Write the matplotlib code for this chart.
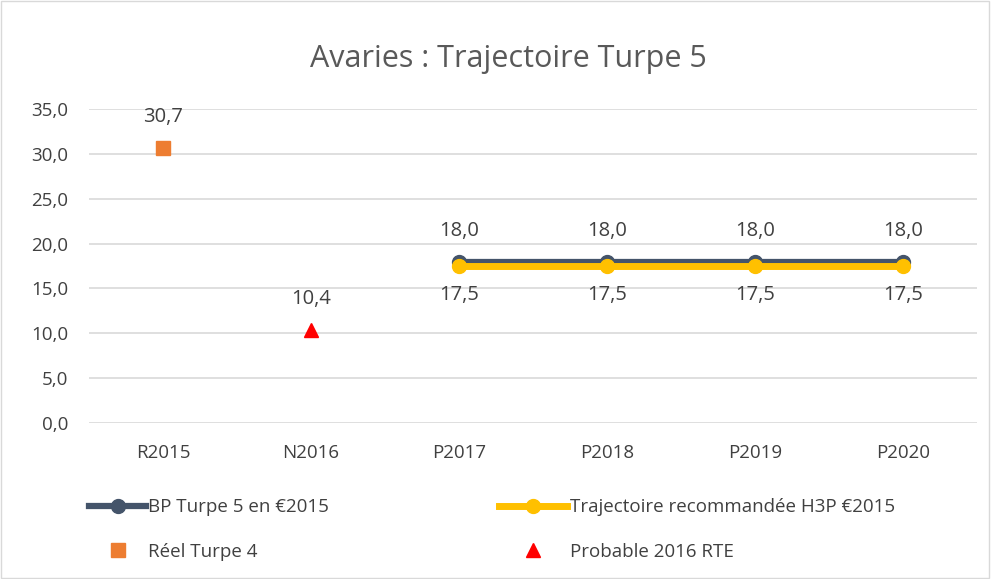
import matplotlib.pyplot as plt
from matplotlib.patches import Rectangle

categories = ['R2015', 'N2016', 'P2017', 'P2018', 'P2019', 'P2020']
bp_turpe5 = [None, None, 18.0, 18.0, 18.0, 18.0]
trajectoire_h3p = [None, None, 17.5, 17.5, 17.5, 17.5]
reel_turpe4 = [30.7, None, None, None, None, None]
probable_rte = [None, 10.4, None, None, None, None]
y_ticks = [0, 5, 10, 15, 20, 25, 30, 35]

plt.rcParams['font.family'] = ['Open Sans', 'DejaVu Sans']
text_color = '#404040'

fig = plt.figure(figsize=(9.91, 5.79), dpi=100)
ax = fig.add_axes([89 / 991, 1 - 423 / 579, 888 / 991, 314 / 579])

x = list(range(len(categories)))


def pts(values):
    return [(i, v) for i, v in zip(x, values) if v is not None]


bx, by = zip(*pts(bp_turpe5))
tx, ty = zip(*pts(trajectoire_h3p))
rx, ry = zip(*pts(reel_turpe4))
px, py = zip(*pts(probable_rte))

h1, = ax.plot(bx, by, color='#44546A', lw=4.5, marker='o', ms=10, zorder=3,
              label='BP Turpe 5 en €2015')
h2, = ax.plot(tx, ty, color='#FFC000', lw=5, marker='o', ms=10, zorder=4,
              label='Trajectoire recommandée H3P €2015')
h3, = ax.plot(rx, ry, ls='none', marker='s', ms=10, color='#ED7D31', zorder=4,
              label='Réel Turpe 4')
h4, = ax.plot(px, py, ls='none', marker='^', ms=10, color='#FF0000', zorder=4,
              label='Probable 2016 RTE')

fmt = lambda v: f'{v:.1f}'.replace('.', ',')
for xi, yi in zip(bx, by):
    ax.annotate(fmt(yi), (xi, yi), xytext=(0, 15), textcoords='offset points',
                ha='center', va='bottom', fontsize=14.5, color=text_color)
for xi, yi in zip(tx, ty):
    ax.annotate(fmt(yi), (xi, yi), xytext=(0, -14), textcoords='offset points',
                ha='center', va='top', fontsize=14.5, color=text_color)
for xi, yi in list(zip(rx, ry)) + list(zip(px, py)):
    ax.annotate(fmt(yi), (xi, yi), xytext=(0, 15), textcoords='offset points',
                ha='center', va='bottom', fontsize=14.5, color=text_color)

ax.set_xlim(-0.5, len(categories) - 0.5)
ax.set_ylim(0, 35)
ax.set_xticks(x)
ax.set_xticklabels(categories)
ax.set_yticks(y_ticks)
ax.set_yticklabels([fmt(v) for v in y_ticks])
ax.tick_params(length=0, labelsize=13.5, colors=text_color)
ax.tick_params(axis='y', pad=15)
ax.tick_params(axis='x', pad=15)
ax.grid(axis='y', color='#d9d9d9', lw=1.2)
ax.set_axisbelow(True)
for s in ax.spines.values():
    s.set_visible(False)

fig.text(508 / 991, 1 - 59 / 579, 'Avaries : Trajectoire Turpe 5', ha='center',
         va='center', fontsize=22, color='#595959')

leg_kw = dict(loc='upper left', frameon=False, fontsize=13.5, labelcolor=text_color,
              handletextpad=0.15, labelspacing=1.4, borderpad=0)
leg1 = fig.legend([h1, h3], [h1.get_label(), h3.get_label()], handlelength=3.0,
                  bbox_to_anchor=(80 / 991, 1 - 489 / 579), **leg_kw)
leg2 = fig.legend([h2, h4], [h2.get_label(), h4.get_label()], handlelength=3.6,
                  bbox_to_anchor=(490 / 991, 1 - 489 / 579), **leg_kw)

fig.patches.append(Rectangle((0.001, 0.001), 0.997, 0.997, transform=fig.transFigure,
                             fill=False, edgecolor='#d9d9d9', lw=1))

fig.savefig('out.png', dpi=100)
